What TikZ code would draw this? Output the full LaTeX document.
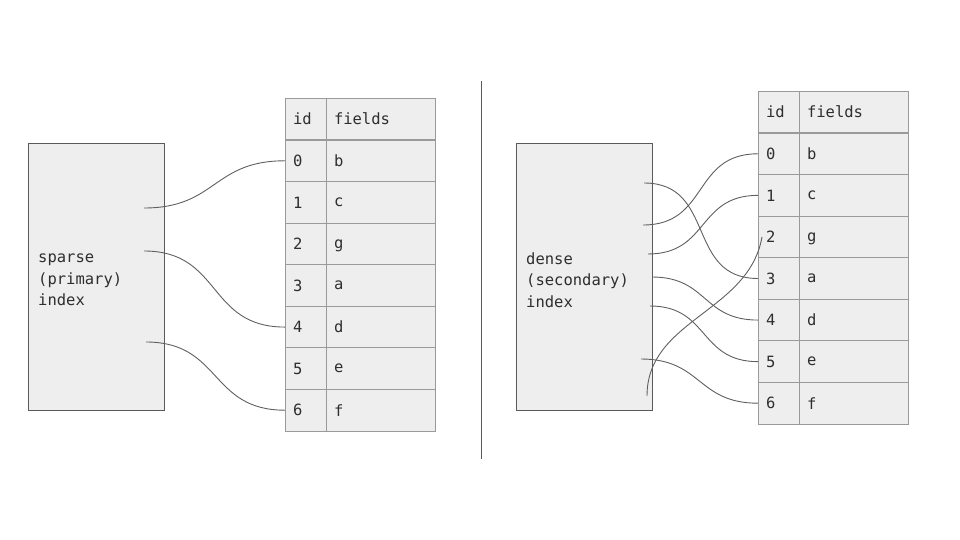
\documentclass[tikz,border=0pt]{standalone}
\usepackage{fontspec}
\setmonofont{DejaVu Sans Mono}
\usetikzlibrary{positioning}
\definecolor{cfill}{HTML}{EEEEEE}
\definecolor{cedge}{HTML}{5A5A5A}
\definecolor{cgrid}{HTML}{9A9A9A}
\definecolor{cline}{HTML}{5F5F5F}
\definecolor{ctext}{HTML}{2E2E2E}
\tikzset{
  every picture/.style={font=\ttfamily\fontsize{15.5}{21.5}\selectfont, x=1pt, y=-1pt},
  index/.style={draw=cedge, fill=cfill, line width=1pt, minimum width=136pt, minimum height=266pt, inner sep=0pt, outer sep=0pt},
  cell/.style={draw=cgrid, fill=cfill, line width=0.8pt, text=ctext, minimum height=41.6pt, inner sep=0pt, outer sep=0pt, text depth=0pt, align=left},
  idcell/.style={cell, minimum width=41pt, text width=25pt},
  fcell/.style={cell, minimum width=109pt, text width=93pt},
  label/.style={text=ctext, align=left, inner sep=0pt},
  link/.style={draw=cline, line width=0.9pt, looseness=1.25},
}
% one table: #1 prefix, #2 left x, #3 top y
\newcommand{\idtable}[3]{%
  \begin{scope}[shift={(#2,#3)}]
    \node[idcell] (#1head) at (20.5,21) {id};
    \node[fcell] (#1fhead) at (95.5,21) {fields};
    \foreach \n/\f [count=\i] in {0/b,1/c,2/g,3/a,4/d,5/e,6/f} {
      \node[idcell] (#1\n) at (20.5,{42+41.57*(\i-0.5)}) {\n};
      \node[fcell] (#1f\n) at (95.5,{42+41.57*(\i-0.5)}) {\f};
    }
  \end{scope}}

\begin{document}
\begin{tikzpicture}
  \useasboundingbox (0,0) rectangle (960,540);
  % sparse side
  \node[index] (sparse) at (96,277) {};
  \node[label, right=10pt of sparse.west, yshift=-3pt] {sparse\\(primary)\\index};
  \idtable{l}{285}{98}
  \coordinate (ls0) at (144,208);
  \coordinate (ls1) at (144,251);
  \coordinate (ls2) at (146,342);
  \draw[link] (ls0) to[out=0, in=180] (l0.west);
  \draw[link] (ls1) to[out=0, in=180] (l4.west);
  \draw[link] (ls2) to[out=0, in=180] (l6.west);

  \draw[draw=cedge, line width=0.9pt] (481,81) -- (481,459);

  % dense side
  \node[index] (dense) at (584,277) {};
  \node[label, right=10pt of dense.west, yshift=-3pt] {dense\\(secondary)\\index};
  \idtable{r}{758}{91}
  \coordinate (rs0) at (644,183);
  \coordinate (rs1) at (643,225);
  \coordinate (rs2) at (648,254);
  \coordinate (rs3) at (652,277);
  \coordinate (rs4) at (650,306);
  \coordinate (rs5) at (641,359);
  \coordinate (rs6) at (647,396);
  \foreach \s/\t in {rs0/r3, rs1/r0, rs2/r1, rs3/r4, rs4/r5, rs5/r6}
    \draw[link] (\s) to[out=0, in=180] (\t.west);
  \draw[link, looseness=1] (rs6) to[out=90, in=-100] ([xshift=4pt]r2.west);
\end{tikzpicture}
\end{document}
